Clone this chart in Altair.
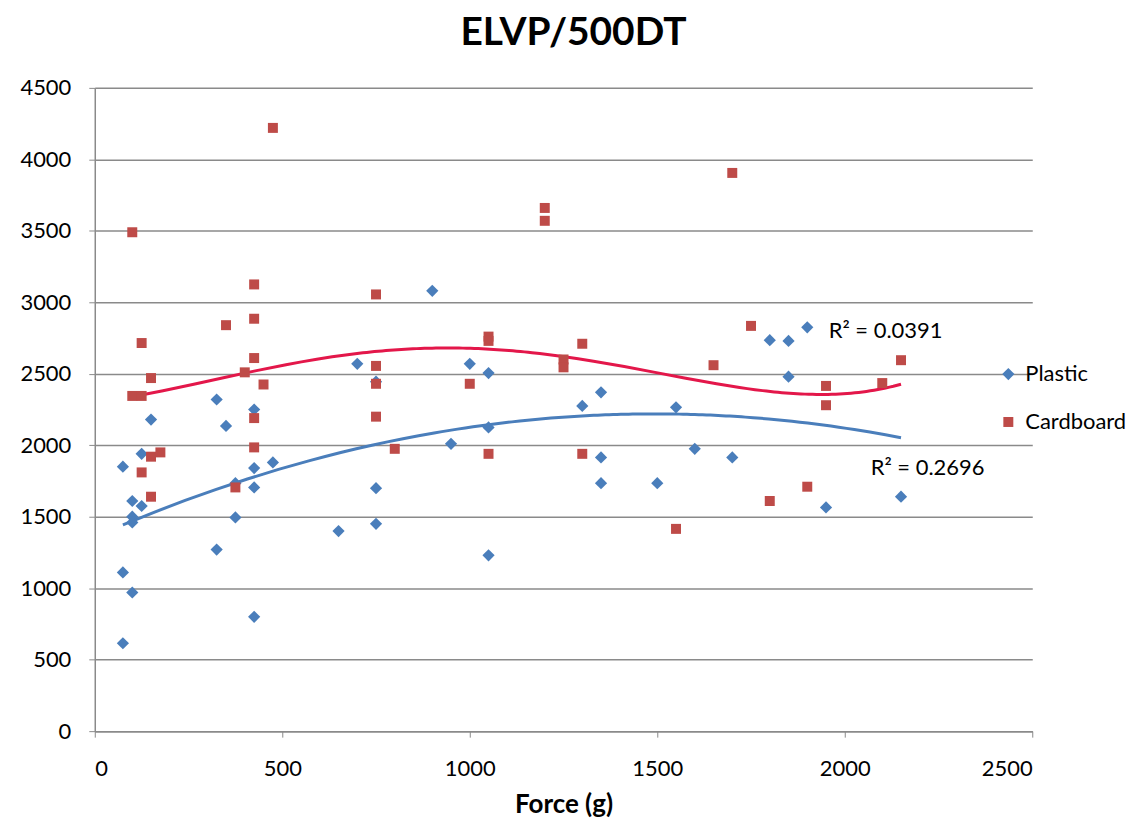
import altair as alt
import pandas as pd

plastic_force = [75, 75, 75, 100, 100, 100, 100, 125, 125, 150, 325, 325, 350, 375, 375,
                 425, 425, 425, 425, 475, 650, 700, 750, 750, 750, 900, 950, 1000,
                 1050, 1050, 1050, 1300, 1350, 1350, 1350, 1500, 1550, 1600, 1700,
                 1800, 1850, 1850, 1900, 1950, 2150]
plastic_elvp = [1850, 1110, 615, 1610, 1500, 1460, 970, 1940, 1575, 2180, 2320, 1270, 2135, 1735, 1495,
                2250, 1840, 1705, 800, 1880, 1400, 2570, 2445, 1700, 1450, 3080, 2010, 2570,
                2505, 2125, 1230, 2275, 2370, 1915, 1735, 1735, 2265, 1975, 1915,
                2735, 2730, 2480, 2825, 1565, 1640]

card_force = [100, 100, 125, 125, 125, 150, 150, 150, 175, 350, 375, 400,
              425, 425, 425, 425, 425, 450, 475, 750, 750, 750, 750, 800, 1000,
              1050, 1050, 1050, 1200, 1200, 1250, 1250, 1300, 1300, 1550, 1650,
              1700, 1750, 1800, 1900, 1950, 1950, 2100, 2150]
card_elvp = [3490, 2345, 2715, 2345, 1810, 2470, 1920, 1640, 1950, 2840, 1705, 2510,
             3125, 2885, 2610, 2190, 1985, 2425, 4220, 3055, 2555, 2430, 2200, 1975, 2430,
             2760, 2730, 1940, 3660, 3570, 2600, 2545, 2710, 1940, 1415, 2560,
             3905, 2835, 1610, 1710, 2415, 2280, 2435, 2595]

series_names = ["Plastic", "Cardboard"]
r2_labels = ["R² = 0.2696", "R² = 0.0391"]
r2_x = [2069, 1957]
r2_y = [1842, 2798]

df = pd.concat([
    pd.DataFrame({"force": plastic_force, "elvp": plastic_elvp, "series": "Plastic"}),
    pd.DataFrame({"force": card_force, "elvp": card_elvp, "series": "Cardboard"}),
], ignore_index=True)

lab = pd.DataFrame({"x": r2_x, "y": r2_y, "text": r2_labels})

FONT = "Lato"
GRID = "#8a8a8a"

xscale = alt.Scale(domain=[0, 2500], nice=False)
yscale = alt.Scale(domain=[0, 4500], nice=False)

xax = alt.Axis(values=[0, 500, 1000, 1500, 2000, 2500], grid=False, title="Force (g)", format="d",
               titleFontSize=26, titleFontWeight="bold", titleFont=FONT, titlePadding=13,
               labelFontSize=22, labelFont=FONT, labelColor="#000", titleColor="#000",
               domainColor=GRID, tickColor=GRID, tickSize=6, labelPadding=21, domainWidth=1.5)
yax = alt.Axis(values=list(range(0, 4501, 500)), grid=True, gridColor=GRID, gridWidth=1.5, format="d",
               title=None, labelFontSize=22, labelFont=FONT, labelColor="#000",
               domainColor=GRID, tickColor=GRID, tickSize=6, labelPadding=18, domainWidth=1.5)

leg = alt.Legend(title=None, orient="none", legendX=905, legendY=276,
                 labelFontSize=22, labelFont=FONT, labelColor="#000",
                 rowPadding=26, symbolSize=130, labelOffset=6)

points = alt.Chart(df).mark_point(filled=True, opacity=1, strokeWidth=0).encode(
    x=alt.X("force:Q", scale=xscale, axis=xax),
    y=alt.Y("elvp:Q", scale=yscale, axis=yax),
    color=alt.Color("series:N", scale=alt.Scale(domain=series_names, range=["#4A7EBB", "#BE4B48"]),
                    legend=leg),
    shape=alt.Shape("series:N", scale=alt.Scale(domain=series_names, range=["diamond", "square"]),
                    legend=leg),
    size=alt.Size("series:N", scale=alt.Scale(domain=series_names, range=[150, 100]), legend=None),
)

def trend(name, order, color):
    return alt.Chart(df).transform_filter(alt.datum.series == name).transform_regression(
        "force", "elvp", method="poly", order=order).mark_line(color=color, strokeWidth=3).encode(
        x=alt.X("force:Q", scale=xscale), y=alt.Y("elvp:Q", scale=yscale))

trend_p = trend("Plastic", 2, "#4A7EBB")
trend_c = trend("Cardboard", 4, "#E3174A")

labels = alt.Chart(lab).mark_text(align="left", baseline="middle", fontSize=22, font=FONT,
                                  color="#000").encode(
    x=alt.X("x:Q", scale=xscale), y=alt.Y("y:Q", scale=yscale), text="text:N")

chart = alt.layer(trend_p, trend_c, points, labels).properties(
    width=940, height=645,
    title=alt.Title("ELVP/500DT", fontSize=39, fontWeight="bold", font=FONT, color="#000",
                    anchor="middle", offset=24, dx=10),
    autosize=alt.AutoSizeParams(type="none"),
    padding={"left": 87, "top": 79, "right": 100, "bottom": 88},
).configure_view(stroke=None)

chart.save("out.html", embed_options={"renderer": "svg", "actions": False})
